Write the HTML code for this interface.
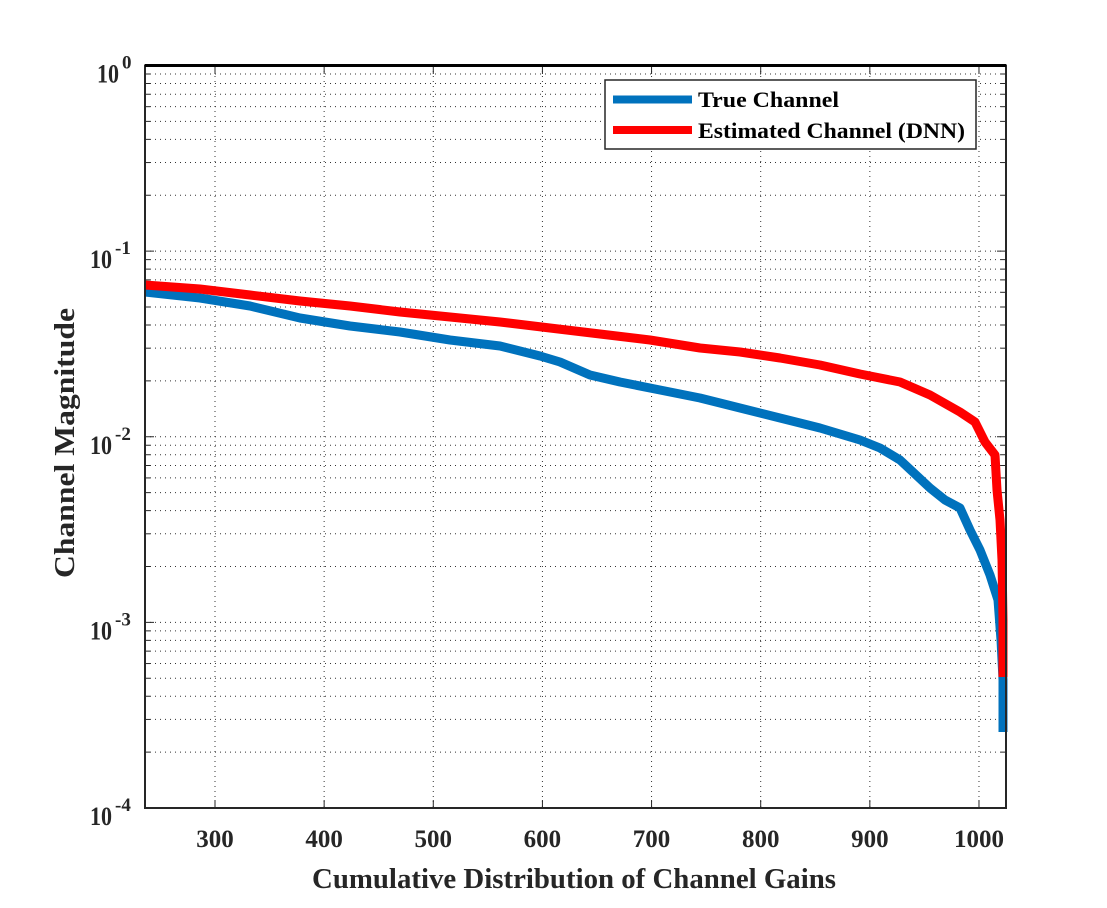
<!DOCTYPE html>
<html><head><meta charset="utf-8"><style>
html,body{margin:0;padding:0;background:#fff;}
svg text{font-family:"Liberation Serif",serif;font-weight:bold;fill:#262626;}
</style></head><body>
<svg width="1107" height="903" viewBox="0 0 1107 903" xmlns="http://www.w3.org/2000/svg">
<rect width="1107" height="903" fill="#fff"/>
<g id="grid" stroke="#333" stroke-width="1" stroke-dasharray="1,4" fill="none"></g>
<g id="ticks" stroke="#262626" stroke-width="1"></g>
<polyline fill="none" stroke="#0072BD" stroke-width="9" stroke-linejoin="round" points="145,292 200,298 250,306 300,318 350,326 400,332 450,340 500,346 540,356 560,362 590,375 620,382 660,390 700,398 740,408 780,418 820,428 860,440 880,448 900,460 915,474 930,488 945,500 960,508 970,530 980,550 990,575 998,600 1001,640 1003,680 1003,732"/>
<polyline fill="none" stroke="#FF0000" stroke-width="9" stroke-linejoin="round" points="145,285 200,289 250,295 300,301 350,306 400,312 450,317 500,322 550,328 600,334 650,340 700,348 740,352 780,358 820,365 860,374 900,382 930,395 960,412 975,422 985,442 995,455 997,490 1000,520 1002,560 1003,620 1003,677"/>
<rect x="145" y="65.5" width="861" height="742.5" fill="none" stroke="#262626" stroke-width="2"/>
<line x1="145" y1="65.5" x2="1006" y2="65.5" stroke="#000" stroke-width="3"/>
<rect x="605" y="80" width="371" height="69" fill="#fff" stroke="#262626" stroke-width="1.5"/>
<line x1="613" y1="99.5" x2="692" y2="99.5" stroke="#0072BD" stroke-width="8"/>
<line x1="613" y1="130" x2="692" y2="130" stroke="#FF0000" stroke-width="8"/>
<text x="698" y="107" font-size="22" textLength="141" lengthAdjust="spacingAndGlyphs" style="fill:#000">True Channel</text>
<text x="698" y="138" font-size="22" textLength="267" lengthAdjust="spacingAndGlyphs" style="fill:#000">Estimated Channel (DNN)</text>
<g id="labels" font-size="25"></g>
<text x="312" y="888" font-size="28" textLength="524" lengthAdjust="spacingAndGlyphs">Cumulative Distribution of Channel Gains</text>
<text transform="translate(74,578) rotate(-90)" font-size="28" textLength="270" lengthAdjust="spacingAndGlyphs">Channel Magnitude</text>
</svg>
<script>
var ns="http://www.w3.org/2000/svg";
function el(p,t,a,txt){var e=document.createElementNS(ns,t);for(var k in a)e.setAttribute(k,a[k]);if(txt!==undefined)e.textContent=txt;document.getElementById(p).appendChild(e);return e;}
var T0=65.5,dec=185.625;
function X(v){return 215+(v-300)*1.0914;}
for(var v=300;v<=1000;v+=100){var x=X(v);
 el("grid","line",{x1:x,y1:66,x2:x,y2:808});
 el("ticks","line",{x1:x,y1:808,x2:x,y2:800});el("ticks","line",{x1:x,y1:66,x2:x,y2:74});
 el("labels","text",{x:x,y:847,"text-anchor":"middle"},String(v));}
for(var d=0;d<4;d++){for(var m=1;m<10;m++){var y;
 if(m==1)y=T0+dec*d; else y=T0+dec*(d+1)-dec*Math.log10(m);
 el("grid","line",{x1:145,y1:y,x2:1006,y2:y});
 var L=m==1?9:5;el("ticks","line",{x1:145,y1:y,x2:145+L,y2:y});el("ticks","line",{x1:1006,y1:y,x2:1006-L,y2:y});}}
for(var d=0;d<=4;d++){var y=T0+dec*d;
 var x0=d==0?97:90;
 el("labels","text",{x:x0,y:y+17,"font-size":26,textLength:22,lengthAdjust:"spacingAndGlyphs"},"10");
 el("labels","text",{x:x0+25,y:y+3,"font-size":19},d==0?"0":"-"+d);}
</script>
</body></html>
